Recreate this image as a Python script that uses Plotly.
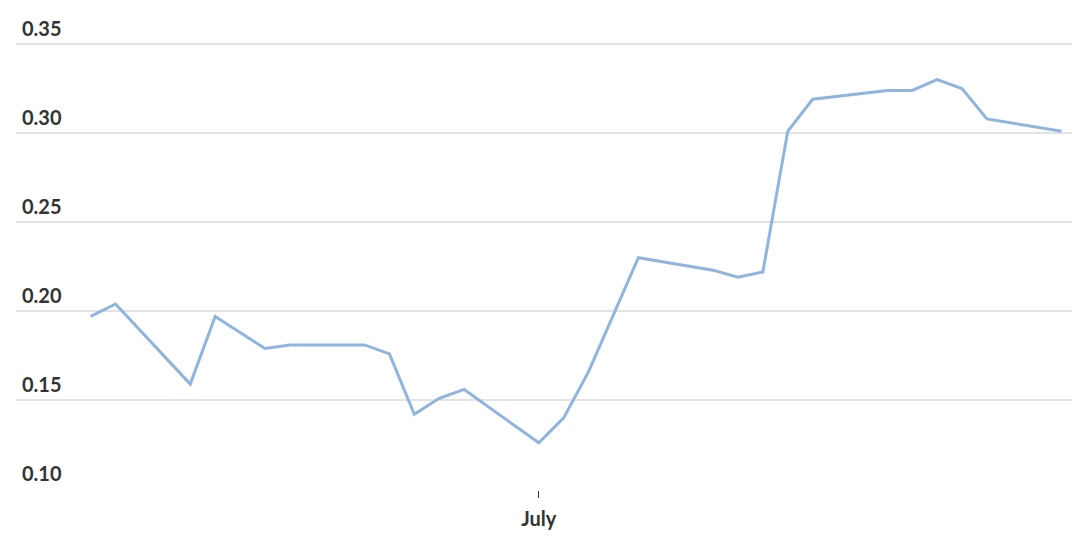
import plotly.graph_objects as go

dates = ["2019-06-13", "2019-06-14", "2019-06-17", "2019-06-18", "2019-06-20", "2019-06-21",
         "2019-06-24", "2019-06-25", "2019-06-26", "2019-06-27", "2019-06-28",
         "2019-07-01", "2019-07-02", "2019-07-03", "2019-07-05",
         "2019-07-08", "2019-07-09", "2019-07-10", "2019-07-11", "2019-07-12",
         "2019-07-15", "2019-07-16", "2019-07-17", "2019-07-18", "2019-07-19", "2019-07-22"]
values = [0.197, 0.204, 0.159, 0.197, 0.179, 0.181,
          0.181, 0.176, 0.142, 0.151, 0.156,
          0.126, 0.140, 0.166, 0.230,
          0.223, 0.219, 0.222, 0.301, 0.319,
          0.324, 0.324, 0.330, 0.325, 0.308, 0.301]
y_ticks = [0.10, 0.15, 0.20, 0.25, 0.30, 0.35]
x_tick_vals = ["2019-07-01"]
x_tick_text = ["July"]

fig = go.Figure(go.Scatter(
    x=dates, y=values, mode="lines",
    line=dict(color="#8fb4e0", width=3),
))

fig.update_layout(
    width=1080, height=542,
    margin=dict(l=8, r=15, t=3, b=60, autoexpand=False),
    paper_bgcolor="white", plot_bgcolor="white",
    showlegend=False,
    font=dict(family="Lato", size=20, color="#333333"),
)
fig.update_xaxes(
    range=["2019-06-10 00:00", "2019-07-22 11:00"],
    tickvals=x_tick_vals, ticktext=x_tick_text,
    showgrid=False, zeroline=False, showline=False, automargin=False,
    ticks="outside", ticklen=7, tickwidth=1, tickcolor="#333333",
    ticklabelstandoff=4,
    tickfont=dict(family="Lato", size=20, color="#333333", weight="bold"),
)
fig.update_yaxes(
    range=[0.0995, 0.0995 + 479 / 1780],
    tickvals=y_ticks, tickformat=".2f",
    ticklabelposition="inside top", automargin=False,
    ticklabelstandoff=3, ticklabelshift=-1,
    showgrid=True, gridcolor="#e3e3e3", gridwidth=1.5,
    zeroline=False, showline=False,
    tickfont=dict(family="Lato", size=20, color="#333333", weight="bold"),
)

fig.write_html("out.html")
